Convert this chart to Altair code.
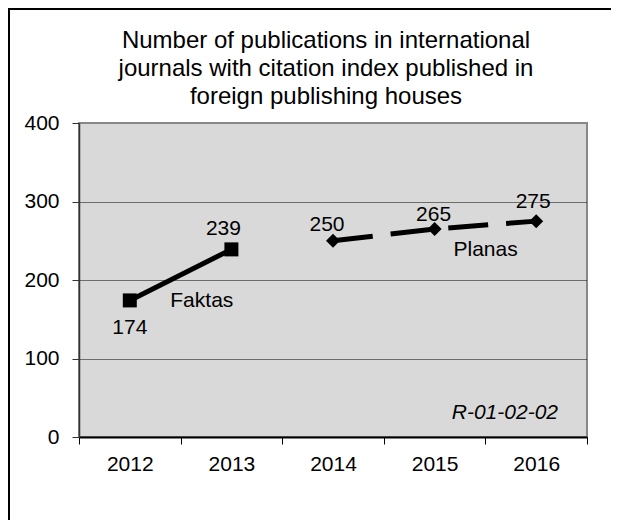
import altair as alt
import pandas as pd

# ---- data ----
fact_years = ["2012", "2013"]
fact_values = [174, 239]
plan_years = ["2014", "2015", "2016"]
plan_values = [250, 265, 275]
all_years = ["2012", "2013", "2014", "2015", "2016"]
title_lines = [
    "Number of publications in international",
    "journals with citation index published in",
    "foreign publishing houses",
]
fact_name = "Faktas"
plan_name = "Planas"
code_text = "R-01-02-02"

FONT = "Liberation Sans, Arial, sans-serif"
FS = 21

df = pd.DataFrame({
    "year": fact_years + plan_years,
    "value": fact_values + plan_values,
    "series": [fact_name] * len(fact_years) + [plan_name] * len(plan_years),
})

x_enc = alt.X(
    "year:O",
    bandPosition=0.5,
    scale=alt.Scale(type="band", domain=all_years, paddingInner=0, paddingOuter=0),
    axis=alt.Axis(
        title=None, labelAngle=0, tickBand="extent", tickSize=7, tickColor="#000000",
        tickWidth=1, domainColor="#000000", domainWidth=2, labelPadding=9,
        labelFontSize=FS, labelFont=FONT, labelColor="#000000", grid=False,
    ),
)
y_enc = alt.Y(
    "value:Q",
    scale=alt.Scale(domain=[0, 400], nice=False, zero=True),
    axis=alt.Axis(
        title=None, values=[0, 100, 200, 300, 400], tickSize=7, tickColor="#333333",
        domainColor="#333333", domainWidth=1.5, labelPadding=13, labelFontSize=FS,
        labelFont=FONT, labelColor="#000000", grid=True, gridColor="#000000",
        gridDash=[1, 1], gridWidth=1,
        gridOpacity={"condition": {"test": "datum.value > 0 && datum.value < 400", "value": 1}, "value": 0},
    ),
)

base = alt.Chart(df)
one = pd.DataFrame({"k": [0]})

frame_top = alt.Chart(one).mark_rule(color="#000000", strokeWidth=2).encode(
    x=alt.value(-70), x2=alt.value(540), y=alt.value(-114)
)
frame_left = alt.Chart(one).mark_rule(color="#000000", strokeWidth=2).encode(
    x=alt.value(-70), y=alt.value(-115), y2=alt.value(420)
)

fact_line = base.transform_filter(alt.datum.series == fact_name).mark_line(
    color="#000000", strokeWidth=5,
    point=alt.OverlayMarkDef(shape="square", size=196, filled=True, color="#000000", opacity=1),
).encode(x=x_enc, y=y_enc)

plan_line = base.transform_filter(alt.datum.series == plan_name).mark_line(
    color="#000000", strokeWidth=5, strokeDash=[40, 18],
    point=alt.OverlayMarkDef(shape="diamond", size=196, filled=True, color="#000000", opacity=1),
).encode(x=x_enc, y=y_enc)

label_offsets = {
    "2012": (0, 28),
    "2013": (-8, -20),
    "2014": (-6, -16),
    "2015": (-1, -14),
    "2016": (-3, -19),
}
value_labels = []
for yr, (ddx, ddy) in label_offsets.items():
    value_labels.append(
        base.transform_filter(alt.datum.year == yr).mark_text(
            font=FONT, fontSize=FS, color="#000000", dx=ddx, dy=ddy,
            align="center", baseline="middle",
        ).encode(x=x_enc, y=y_enc, text="value:Q")
    )

fact_label = base.transform_filter(
    (alt.datum.series == fact_name) & (alt.datum.year == fact_years[0])
).mark_text(
    font=FONT, fontSize=FS, color="#000000", dx=72, dy=1, align="center", baseline="middle"
).encode(x=x_enc, y=y_enc, text="series:N")

plan_label = base.transform_filter(
    (alt.datum.series == plan_name) & (alt.datum.year == plan_years[1])
).mark_text(
    font=FONT, fontSize=FS, color="#000000", dx=51, dy=21, align="center", baseline="middle"
).encode(x=x_enc, y=y_enc, text="series:N")

code_label = alt.Chart(pd.DataFrame({"t": [code_text]})).mark_text(
    font=FONT, fontSize=FS, fontStyle="italic", color="#000000", align="right", baseline="middle"
).encode(x=alt.value(479), y=alt.value(290), text="t:N")

title_text = alt.Chart(pd.DataFrame({"t": [title_lines]})).mark_text(
    font=FONT, fontSize=24, color="#000000", align="center", baseline="alphabetic",
    lineHeight=28,
).encode(x=alt.value(247), y=alt.value(-75), text="t")

chart = alt.layer(
    frame_top, frame_left, fact_line, plan_line, *value_labels, fact_label, plan_label,
    code_label, title_text,
).properties(
    width=508,
    height=314,
    padding={"left": 71, "top": 115, "right": 24, "bottom": 83},
    autosize=alt.AutoSizeParams(type="none"),
    background="#FFFFFF",
).configure_view(
    fill="#D9D9D9", stroke="#888888", strokeWidth=2
)

chart.save("out.html", embed_options={"renderer": "svg", "actions": False})
